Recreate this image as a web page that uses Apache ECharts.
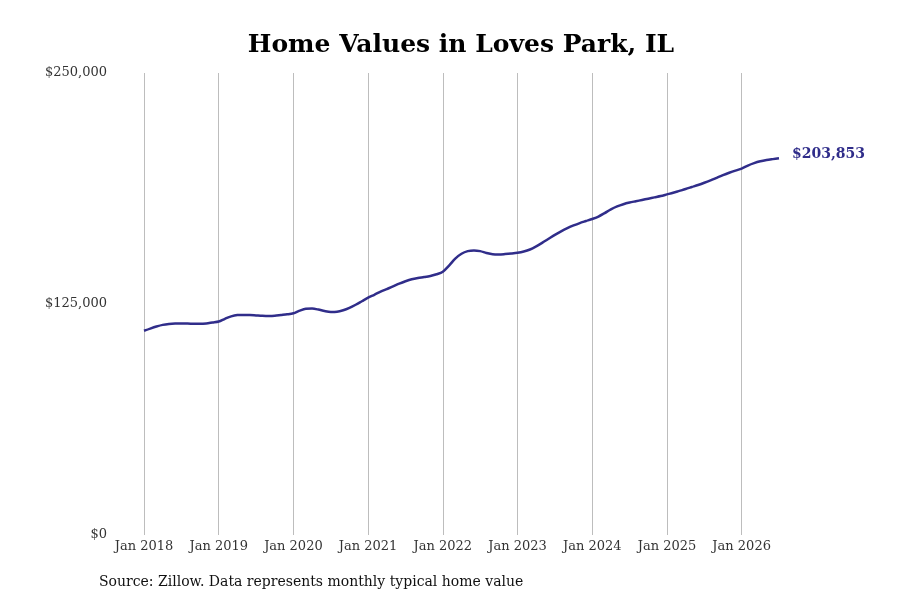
<!DOCTYPE html>
<html>
<head>
<meta charset="utf-8">
<script src="https://cdn.jsdelivr.net/npm/echarts@6/dist/echarts.min.js"></script>
<style>
  html, body { margin: 0; padding: 0; background: #fff; }
  #chart { width: 900px; height: 600px; }
</style>
</head>
<body>
<div id="chart"></div>
<script>
// Monthly typical home value, Jan 2018 - Jul 2026
var years = [2018, 2019, 2020, 2021, 2022, 2023, 2024, 2025, 2026];
var monthNames = ['Jan', 'Feb', 'Mar', 'Apr', 'May', 'Jun', 'Jul', 'Aug', 'Sep', 'Oct', 'Nov', 'Dec'];

var values2018 = [110500, 111700, 112800, 113700, 114200, 114400, 114400, 114400, 114300, 114300, 114500, 115000];
var values2019 = [115500, 117000, 118300, 119000, 119100, 119000, 118800, 118600, 118500, 118600, 119000, 119400];
var values2020 = [120000, 121400, 122400, 122500, 122000, 121200, 120700, 120800, 121600, 122900, 124600, 126500];
var values2021 = [128400, 130000, 131700, 133100, 134500, 136000, 137300, 138400, 139100, 139600, 140200, 141100];
var values2022 = [142500, 145800, 149600, 152200, 153600, 154000, 153600, 152600, 151900, 151800, 152000, 152300];
var values2023 = [152700, 153400, 154500, 156200, 158200, 160300, 162400, 164300, 166000, 167500, 168800, 169900];
var values2024 = [171000, 172300, 174200, 176200, 177800, 179000, 179900, 180600, 181300, 182000, 182700, 183400];
var values2025 = [184300, 185200, 186200, 187200, 188300, 189400, 190600, 191900, 193300, 194700, 196000, 197200];
var values2026 = [198300, 199900, 201200, 202200, 202900, 203400, 203853];

var yTicks = [0, 125000, 250000];

var values = [].concat(values2018, values2019, values2020, values2021, values2022,
    values2023, values2024, values2025, values2026);

var categories = [];
years.forEach(function (y) {
    monthNames.forEach(function (m) {
        if (categories.length < values.length) categories.push(m + ' ' + y);
    });
});

var lineColor = '#302d8a';
var serif = 'DejaVu Serif';

function isJan(index) { return index % 12 === 0; }

var chart = echarts.init(document.getElementById('chart'));

var option = {
    animation: false,
    grid: {
        left: 144,
        right: 121,
        top: 73,
        bottom: 65
    },
    graphic: [
        {
            type: 'text',
            x: 461,
            y: 45,
            style: {
                text: 'Home Values in Loves Park, IL',
                font: 'bold 25px "DejaVu Serif"',
                fill: '#000',
                textAlign: 'center',
                textVerticalAlign: 'middle'
            }
        },
        {
            type: 'text',
            x: 99,
            y: 582,
            style: {
                text: 'Source: Zillow. Data represents monthly typical home value',
                font: '14px "DejaVu Serif"',
                fill: '#111',
                textVerticalAlign: 'middle'
            }
        }
    ],
    xAxis: {
        type: 'category',
        data: categories,
        boundaryGap: false,
        axisLine: { show: false },
        axisTick: { show: false },
        axisLabel: {
            interval: isJan,
            margin: 5,
            fontFamily: serif,
            fontSize: 13,
            color: '#333'
        },
        splitLine: {
            show: true,
            interval: isJan,
            lineStyle: { color: '#bdbdbd', width: 1 }
        }
    },
    yAxis: {
        type: 'value',
        min: yTicks[0],
        max: yTicks[yTicks.length - 1],
        interval: yTicks[1] - yTicks[0],
        axisLine: { show: false },
        axisTick: { show: false },
        splitLine: { show: false },
        axisLabel: {
            margin: 37,
            fontFamily: serif,
            fontSize: 13,
            color: '#333',
            formatter: function (v) { return '$' + v.toLocaleString('en-US'); }
        }
    },
    series: [
        {
            type: 'line',
            data: values,
            smooth: 0.3,
            showSymbol: false,
            lineStyle: { color: lineColor, width: 2.5 },
            itemStyle: { color: lineColor },
            endLabel: {
                show: true,
                distance: 13,
                offset: [0, -4],
                fontFamily: serif,
                fontSize: 14,
                fontWeight: 'bold',
                color: lineColor,
                formatter: function (p) { return '$' + p.value.toLocaleString('en-US'); }
            }
        }
    ]
};

chart.setOption(option);
</script>
</body>
</html>
